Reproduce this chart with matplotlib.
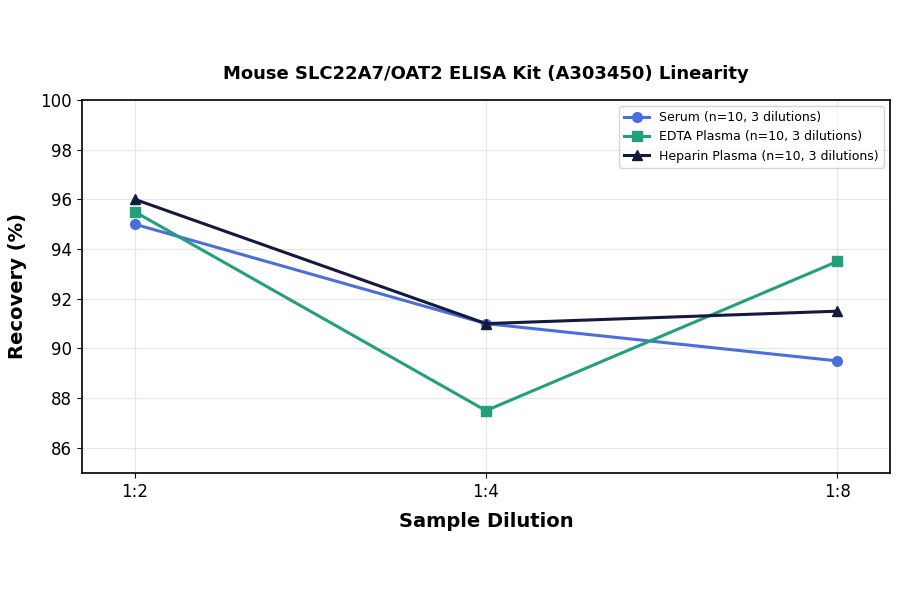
import numpy as np
import matplotlib.pyplot as plt

dilutions = ['1:2', '1:4', '1:8']
serum = [95.0, 91.0, 89.5]
edta_plasma = [95.5, 87.5, 93.5]
heparin_plasma = [96.0, 91.0, 91.5]

x = np.arange(len(dilutions))

fig = plt.figure(figsize=(9, 5.94), dpi=100)
ax = fig.add_axes([0.091, 0.204, 0.898, 0.628])

ax.plot(x, serum, color='#4a6fdc', marker='o', markersize=7, linewidth=2.2,
        label='Serum (n=10, 3 dilutions)')
ax.plot(x, edta_plasma, color='#22a07a', marker='s', markersize=7, linewidth=2.2,
        label='EDTA Plasma (n=10, 3 dilutions)')
ax.plot(x, heparin_plasma, color='#14193f', marker='^', markersize=7, linewidth=2.2,
        label='Heparin Plasma (n=10, 3 dilutions)')

ax.set_xlim(-0.15, 2.15)
ax.set_ylim(85, 100)
ax.set_yticks(np.arange(86, 101, 2))
ax.set_xticks(x)
ax.set_xticklabels(dilutions)
ax.tick_params(labelsize=12)
ax.grid(True, color='#e6e6e6', linewidth=0.8)
for s in ax.spines.values():
    s.set_linewidth(1.2)

ax.set_xlabel('Sample Dilution', fontsize=14, fontweight='bold', labelpad=8)
ax.set_ylabel('Recovery (%)', fontsize=14, fontweight='bold', labelpad=10)
ax.set_title('Mouse SLC22A7/OAT2 ELISA Kit (A303450) Linearity', fontsize=13,
             fontweight='bold', pad=15)
ax.legend(loc='upper right', fontsize=9)

fig.savefig('out.png', dpi=100)
